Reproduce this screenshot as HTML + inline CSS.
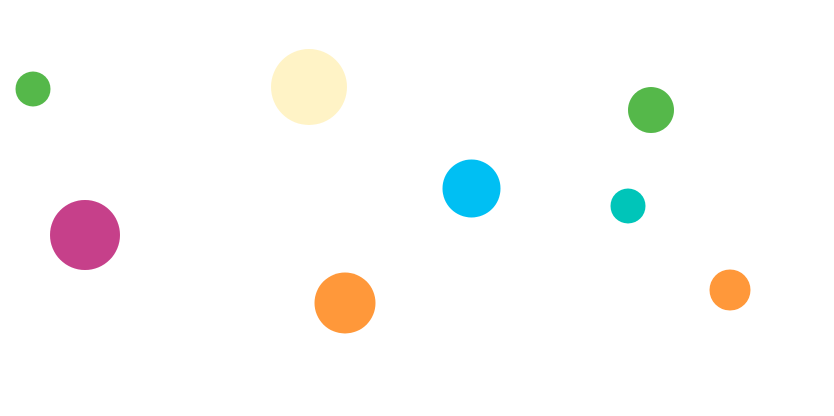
<!DOCTYPE html>
<html><head><meta charset="utf-8"><style>html,body{margin:0;padding:0;background:#fff;width:834px;height:416px;overflow:hidden}</style></head>
<body>
<svg width="834" height="416" xmlns="http://www.w3.org/2000/svg">
<circle cx="33" cy="89" r="17.5" fill="#55b84a"/>
<circle cx="309" cy="87" r="38" fill="#fff3c6"/>
<circle cx="651" cy="110" r="23" fill="#55b84a"/>
<circle cx="471.5" cy="188.5" r="29" fill="#00bff3"/>
<circle cx="628" cy="206" r="17.5" fill="#00c5b9"/>
<circle cx="85" cy="235" r="35" fill="#c6408a"/>
<circle cx="345" cy="303" r="30.5" fill="#ff983a"/>
<circle cx="730" cy="290" r="20.5" fill="#ff983a"/>
</svg>
</body></html>
